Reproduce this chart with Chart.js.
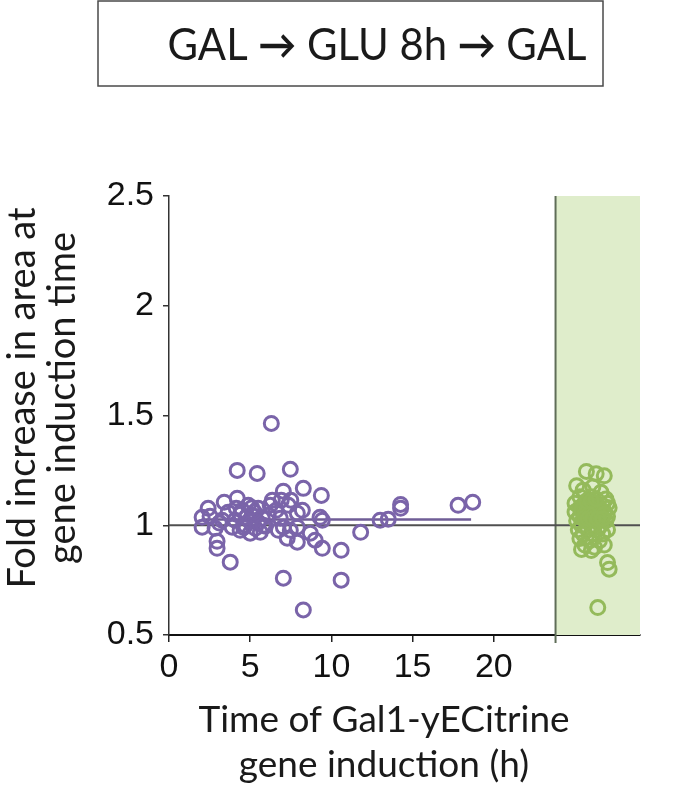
<!DOCTYPE html>
<html>
<head>
<meta charset="utf-8">
<script src="https://cdn.jsdelivr.net/npm/chart.js@4.4.1/dist/chart.umd.min.js"></script>
<style>
  html, body { margin: 0; padding: 0; background: #fff; }
  #wrap { position: relative; width: 697px; height: 792px; }
</style>
</head>
<body>
<div id="wrap"><canvas id="scatterChart" width="697" height="792"></canvas></div>
<script>
// x = time of gene induction (h), y = fold increase in area
const purpleX = [6.3, 4.2, 5.43, 7.47, 8.27, 9.38, 7.04, 6.36, 6.91, 2.41, 3.4, 4.2, 2.04, 2.04, 2.96, 2.96, 3.77,
  7.04, 10.6, 10.6, 8.27, 8.21, 7.9, 9.44, 9.3, 7.28, 7.9, 9.0, 9.44, 7.04, 7.9, 11.8, 13.0, 13.5, 14.26, 14.26,
  17.8, 18.7, 3.64, 4.07, 4.5, 4.88, 5.12, 5.49, 5.74, 4.69, 5.31, 5.93, 4.38, 5.0, 5.62, 6.11, 3.89, 6.23, 6.6,
  6.85, 7.35, 7.5, 3.27, 2.84, 4.75, 5.49, 4.14, 6.73, 7.47, 8.7, 2.53, 4.4, 4.95, 5.25, 5.8, 4.6, 5.1, 3.1];
const purpleY = [1.464, 1.25, 1.236, 1.255, 1.168, 1.136, 1.155, 1.114, 1.114, 1.077, 1.105, 1.123, 1.036, 0.991,
  0.927, 0.895, 0.832, 0.759, 0.886, 0.75, 0.614, 1.068, 1.055, 1.023, 1.036, 0.941, 0.923, 0.932, 0.895, 0.991,
  0.991, 0.968, 1.023, 1.027, 1.077, 1.095, 1.091, 1.105, 1.059, 1.023, 1.068, 1.091, 1.045, 1.077, 1.032, 1.0,
  0.986, 0.995, 0.977, 0.964, 0.968, 1.045, 0.991, 1.091, 1.068, 1.032, 1.091, 1.114, 1.023, 0.986, 1.036, 1.014,
  1.077, 0.977, 0.977, 0.964, 1.041, 1.05, 1.02, 1.06, 1.0, 0.99, 1.08, 1.01];
const greenX = [25.7, 26.3, 26.8, 25.1, 25.5, 26.1, 26.6, 25.3, 26.0, 26.9, 25.0, 25.6, 26.3, 27.0, 25.3, 25.9, 26.5,
  27.1, 25.0, 25.6, 26.2, 26.8, 25.3, 25.9, 26.5, 27.0, 25.1, 25.7, 26.3, 26.9, 25.4, 26.0, 26.6, 25.2, 25.8, 26.4,
  27.0, 25.5, 26.1, 26.7, 25.3, 25.9, 26.5, 25.6, 26.2, 26.8, 25.4, 26.0, 27.0, 27.1, 26.4,
  25.5, 25.8, 26.1, 26.4, 26.7, 25.4, 25.7, 26.0, 26.3, 26.6, 25.6, 25.9, 26.2, 26.5, 26.8, 25.5, 25.8, 26.1, 26.4,
  26.7, 25.7, 26.0, 26.3];
const greenY = [1.245, 1.235, 1.225, 1.18, 1.16, 1.175, 1.15, 1.13, 1.13, 1.12, 1.10, 1.10, 1.10, 1.10, 1.08, 1.08,
  1.08, 1.08, 1.06, 1.06, 1.06, 1.06, 1.04, 1.04, 1.04, 1.04, 1.02, 1.02, 1.02, 1.02, 1.0, 1.0, 1.0, 0.98, 0.98,
  0.98, 0.98, 0.96, 0.96, 0.96, 0.94, 0.93, 0.93, 0.91, 0.90, 0.91, 0.89, 0.885, 0.83, 0.80, 0.625,
  1.09, 1.09, 1.09, 1.09, 1.09, 1.07, 1.07, 1.07, 1.07, 1.07, 1.05, 1.05, 1.05, 1.05, 1.05, 1.03, 1.03, 1.03, 1.03,
  1.03, 1.11, 1.11, 1.12];
const meanLineX = [2.0, 18.6];
const meanLineY = [1.026, 1.026];
const xTicks = [0, 5, 10, 15, 20];
const yTicks = [0.5, 1, 1.5, 2, 2.5];
const breakX = 23.8;   // start of the second GAL period (shaded)
const xMax = 29;

const toPoints = (xs, ys) => xs.map((x, i) => ({ x: x, y: ys[i] }));

const PURPLE = '#7a64a9';
const GREEN = '#94ba5b';
const titleFont = '"Lato", "Open Sans", sans-serif';

// shaded region + break line drawn behind the points
const shadePlugin = {
  id: 'shade',
  beforeDatasetsDraw(chart) {
    const { ctx, chartArea, scales } = chart;
    const x0 = scales.x.getPixelForValue(breakX);
    const x1 = scales.x.getPixelForValue(xMax);
    ctx.save();
    ctx.fillStyle = '#dfedcb';
    ctx.fillRect(x0, chartArea.top, x1 - x0, chartArea.bottom - chartArea.top);
    ctx.strokeStyle = '#5f6d58';
    ctx.lineWidth = 2;
    ctx.beginPath();
    ctx.moveTo(x0, chartArea.top);
    ctx.lineTo(x0, chartArea.bottom + 8);
    ctx.stroke();
    ctx.restore();
  }
};

// draws pieces side by side, centred on cx
function drawPieces(ctx, pieces, cx, cy) {
  let total = 0;
  pieces.forEach(p => { ctx.font = p.font; p.w = ctx.measureText(p.text).width; total += p.w; });
  let x = cx - total / 2;
  ctx.textAlign = 'left';
  pieces.forEach(p => { ctx.font = p.font; ctx.fillText(p.text, x, cy); x += p.w; });
}

// title box and axis titles
const textPlugin = {
  id: 'texts',
  afterDraw(chart) {
    const ctx = chart.ctx;
    ctx.save();
    ctx.strokeStyle = '#4a4a4a';
    ctx.lineWidth = 1.5;
    ctx.strokeRect(98, 1, 505, 85);
    ctx.fillStyle = '#1a1a1a';
    ctx.textBaseline = 'middle';

    ctx.save();
    ctx.translate(377, 0);
    ctx.scale(0.95, 1);
    const tf = '44px ' + titleFont;
    const af = 'bold 40px ' + titleFont;
    drawPieces(ctx, [
      { text: 'GAL ', font: tf }, { text: '\u2192', font: af }, { text: ' GLU 8h ', font: tf },
      { text: '\u2192', font: af }, { text: ' GAL', font: tf }
    ], 0, 46);
    ctx.restore();

    ctx.textAlign = 'center';
    ctx.font = '37px ' + titleFont;
    ctx.fillText('Time of Gal1-yECitrine', 384, 720);
    ctx.fillText('gene induction (h)', 384, 765);

    ctx.font = '38px ' + titleFont;
    ctx.translate(0, 398);
    ctx.rotate(-Math.PI / 2);
    ctx.fillText('Fold increase in area at', 0, 23);
    ctx.fillText('gene induction time', 0, 63);
    ctx.restore();
  }
};

const ctx = document.getElementById('scatterChart').getContext('2d');
const scatterChart = new Chart(ctx, {
  type: 'scatter',
  data: {
    datasets: [
      {
        label: 'GAL',
        data: toPoints(greenX, greenY),
        borderColor: GREEN,
        backgroundColor: 'rgba(0,0,0,0)',
        pointRadius: 7,
        borderWidth: 3
      },
      {
        label: 'GAL -> GLU 8h',
        data: toPoints(purpleX, purpleY),
        borderColor: PURPLE,
        backgroundColor: 'rgba(0,0,0,0)',
        pointRadius: 7,
        borderWidth: 3
      },
      {
        label: 'mean',
        data: toPoints(meanLineX, meanLineY),
        showLine: true,
        borderColor: '#6f5d96',
        borderWidth: 2.5,
        pointRadius: 0
      },
      {
        label: 'reference',
        data: toPoints([0, xMax], [1, 1]),
        showLine: true,
        borderColor: '#505050',
        borderWidth: 1.8,
        pointRadius: 0
      }
    ]
  },
  options: {
    responsive: false,
    animation: false,
    layout: { padding: { left: 0, top: 196, right: 57, bottom: 0 } },
    plugins: {
      legend: { display: false },
      tooltip: { enabled: false }
    },
    scales: {
      x: {
        type: 'linear',
        min: 0,
        max: xMax,
        afterBuildTicks: (axis) => { axis.ticks = xTicks.map(v => ({ value: v })); },
        afterFit: (axis) => { axis.height = 157; },
        ticks: {
          font: { family: '"Liberation Sans", Arial, sans-serif', size: 34 },
          color: '#111',
          padding: 5,
          maxRotation: 0,
          callback: (v) => String(v)
        },
        grid: { drawOnChartArea: false, tickLength: 7, color: '#222', lineWidth: 1.5 },
        border: { color: '#111', width: 2 }
      },
      y: {
        type: 'linear',
        min: 0.5,
        max: 2.5,
        afterBuildTicks: (axis) => { axis.ticks = yTicks.map(v => ({ value: v })); },
        afterFit: (axis) => { axis.width = 169; },
        ticks: {
          font: { family: '"Liberation Sans", Arial, sans-serif', size: 34 },
          color: '#111',
          padding: 9,
          callback: (v) => String(v)
        },
        grid: { drawOnChartArea: false, tickLength: 6, color: '#333', lineWidth: 1.5 },
        border: { color: '#333', width: 1.5 }
      }
    }
  },
  plugins: [shadePlugin, textPlugin]
});
</script>
</body>
</html>
